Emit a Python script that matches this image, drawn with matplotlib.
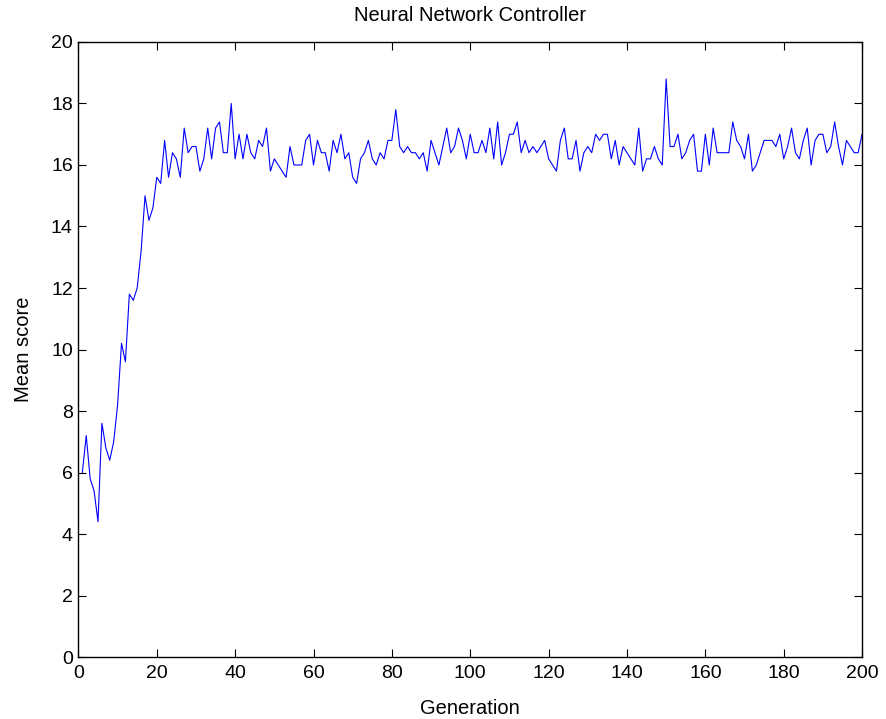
import numpy as np
import matplotlib
matplotlib.use("Agg")
import matplotlib.pyplot as plt

plt.rcParams['font.family'] = ['Liberation Sans', 'DejaVu Sans']

generation = np.arange(1, 201)
mean_score = [
    6.0, 7.2, 5.8, 5.4, 4.4, 7.6, 6.8, 6.4, 7.0, 8.2,
    10.2, 9.6, 11.8, 11.6, 12.0, 13.2, 15.0, 14.2, 14.6, 15.6,
    15.4, 16.8, 15.6, 16.4, 16.2, 15.6, 17.2, 16.4, 16.6, 16.6,
    15.8, 16.2, 17.2, 16.2, 17.2, 17.4, 16.4, 16.4, 18.0, 16.2,
    17.0, 16.2, 17.0, 16.4, 16.2, 16.8, 16.6, 17.2, 15.8, 16.2,
    16.0, 15.8, 15.6, 16.6, 16.0, 16.0, 16.0, 16.8, 17.0, 16.0,
    16.8, 16.4, 16.4, 15.8, 16.8, 16.4, 17.0, 16.2, 16.4, 15.6,
    15.4, 16.2, 16.4, 16.8, 16.2, 16.0, 16.4, 16.2, 16.8, 16.8,
    17.8, 16.6, 16.4, 16.6, 16.4, 16.4, 16.2, 16.4, 15.8, 16.8,
    16.4, 16.0, 16.6, 17.2, 16.4, 16.6, 17.2, 16.8, 16.2, 17.0,
    16.4, 16.4, 16.8, 16.4, 17.2, 16.2, 17.4, 16.0, 16.4, 17.0,
    17.0, 17.4, 16.4, 16.8, 16.4, 16.6, 16.4, 16.6, 16.8, 16.2,
    16.0, 15.8, 16.8, 17.2, 16.2, 16.2, 16.8, 15.8, 16.4, 16.6,
    16.4, 17.0, 16.8, 17.0, 17.0, 16.2, 16.8, 16.0, 16.6, 16.4,
    16.2, 16.0, 17.2, 15.8, 16.2, 16.2, 16.6, 16.2, 16.0, 18.8,
    16.6, 16.6, 17.0, 16.2, 16.4, 16.8, 17.0, 15.8, 15.8, 17.0,
    16.0, 17.2, 16.4, 16.4, 16.4, 16.4, 17.4, 16.8, 16.6, 16.2,
    17.0, 15.8, 16.0, 16.4, 16.8, 16.8, 16.8, 16.6, 17.0, 16.2,
    16.6, 17.2, 16.4, 16.2, 16.8, 17.2, 16.0, 16.8, 17.0, 17.0,
    16.4, 16.6, 17.4, 16.6, 16.0, 16.8, 16.6, 16.4, 16.4, 17.0,
]
x_ticks = np.arange(0, 201, 20)
y_ticks = np.arange(0, 21, 2)

fig = plt.figure(figsize=(8.86, 7.19), dpi=100)
ax = fig.add_axes([0.0885, 0.0862, 0.8845, 0.8554])

ax.plot(generation, mean_score, color='#0000ff', linewidth=0.8)

ax.set_xlim(0, 200)
ax.set_ylim(0, 20)
ax.set_xticks(x_ticks)
ax.set_yticks(y_ticks)
ax.tick_params(direction='in', length=6, width=0.8, top=True, right=True,
               labelsize=14)
ax.tick_params(axis='x', pad=6)
ax.tick_params(axis='y', pad=4)
for s in ax.spines.values():
    s.set_linewidth(1.0)

ax.set_xlabel('Generation', fontsize=14.5, labelpad=12)
ax.set_ylabel('Mean score', fontsize=14.5, labelpad=13)
ax.set_title('Neural Network Controller', fontsize=14.5, pad=15)

fig.savefig('out.png', dpi=100)
